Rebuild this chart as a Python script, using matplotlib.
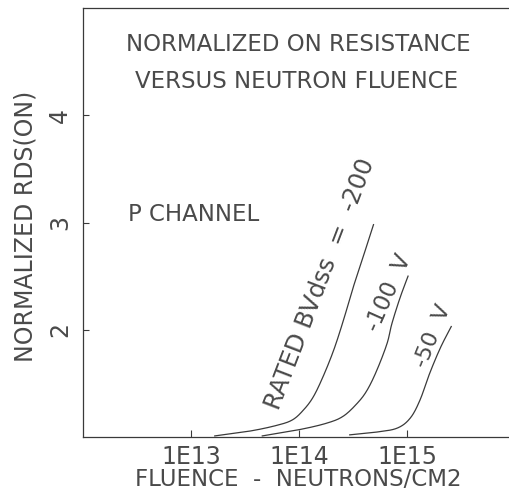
import numpy as np
import matplotlib.pyplot as plt

plt.rcParams.update({
    "font.family": "DejaVu Sans",
    "font.size": 16,
    "text.color": "#4a4a4a",
    "axes.edgecolor": "#3a3a3a",
    "xtick.color": "#3a3a3a",
    "ytick.color": "#3a3a3a",
})

# fluence (log10 n/cm2) and normalized RDS(on)
logf_200 = [13.22, 13.55, 13.80, 13.94, 14.04, 14.13, 14.22, 14.32, 14.41, 14.50, 14.59, 14.69]
rds_200 = [1.01, 1.056, 1.11, 1.16, 1.25, 1.37, 1.556, 1.806, 2.083, 2.389, 2.667, 2.98]

logf_100 = [13.66, 14.01, 14.26, 14.41, 14.54, 14.63, 14.72, 14.815, 14.86, 14.935, 15.01]
rds_100 = [1.01, 1.07, 1.13, 1.194, 1.315, 1.435, 1.62, 1.87, 2.056, 2.296, 2.50]

logf_50 = [14.47, 14.72, 14.91, 15.03, 15.12, 15.21, 15.31, 15.41]
rds_50 = [1.02, 1.046, 1.083, 1.176, 1.343, 1.593, 1.833, 2.03]

xticks = [1e13, 1e14, 1e15]
xticklabels = ['1E13', '1E14', '1E15']
yticks = [2, 3, 4]


def catmull(px, py, n=20):
    # smooth path through the read points (Catmull-Rom)
    p = np.column_stack([px, py])
    p = np.vstack([p[0], p, p[-1]])
    out = []
    t = np.linspace(0, 1, n, endpoint=False)[:, None]
    for i in range(1, len(p) - 2):
        p0, p1, p2, p3 = p[i - 1], p[i], p[i + 1], p[i + 2]
        out.append(0.5 * ((2 * p1) + (-p0 + p2) * t
                          + (2 * p0 - 5 * p1 + 4 * p2 - p3) * t ** 2
                          + (-p0 + 3 * p1 - 3 * p2 + p3) * t ** 3))
    out.append(p[-2][None, :])
    out = np.vstack(out)
    return 10 ** out[:, 0], out[:, 1]


fig = plt.figure(figsize=(5.10, 4.95), dpi=100)
ax = fig.add_axes([83 / 510, 58 / 495, 427 / 510, 429 / 495])

for lx, y in [(logf_200, rds_200), (logf_100, rds_100), (logf_50, rds_50)]:
    xs, ys = catmull(lx, y)
    ax.plot(xs, ys, color='#3a3a3a', lw=0.9)

ax.set_xscale('log')
ax.set_xlim(1e12, 10 ** 15.954)
ax.set_ylim(1, 5)
ax.set_xticks(xticks, xticklabels)
ax.minorticks_off()
ax.set_yticks(yticks, [str(v) for v in yticks])
ax.tick_params(axis='x', direction='in', length=5, width=0.8, pad=6,
               labelsize=17, labelcolor='#4a4a4a')
ax.tick_params(axis='y', direction='in', length=4, width=0.8, pad=8,
               labelsize=17, labelrotation=90, labelcolor='#4a4a4a')
for lab in ax.get_yticklabels():
    lab.set_verticalalignment('center')
ax.spines['right'].set_visible(False)
for s in ['left', 'bottom', 'top']:
    ax.spines[s].set_linewidth(0.9)

ax.set_xlabel('FLUENCE  -  NEUTRONS/CM2', fontsize=16.5, color='#4a4a4a')
ax.xaxis.set_label_coords(0.505, -(480 - 437) / 429)
ax.xaxis.label.set_va('center')
ax.set_ylabel('NORMALIZED RDS(ON)', fontsize=17, color='#4a4a4a')
ax.yaxis.set_label_coords(-(83 - 26) / 427, 0.49)
ax.yaxis.label.set_va('center')

tr = ax.transAxes
ax.text(0.505, 0.915, 'NORMALIZED ON RESISTANCE', transform=tr,
        ha='center', va='center', fontsize=16.5)
ax.text(0.50, 0.828, 'VERSUS NEUTRON FLUENCE', transform=tr,
        ha='center', va='center', fontsize=16.5)
ax.text(0.105, 0.518, 'P CHANNEL', transform=tr,
        ha='left', va='center', fontsize=16.5)

ax.text(10 ** 14.20, 2.43, 'RATED BVdss  =  -200', rotation=69,
        ha='center', va='center', fontsize=17.5, rotation_mode='anchor')
ax.text(10 ** 14.83, 2.34, '-100  V', rotation=66,
        ha='center', va='center', fontsize=16.5, rotation_mode='anchor')
ax.text(10 ** 15.24, 1.94, '-50  V', rotation=68,
        ha='center', va='center', fontsize=16, rotation_mode='anchor')

fig.savefig('out.png', dpi=100)
